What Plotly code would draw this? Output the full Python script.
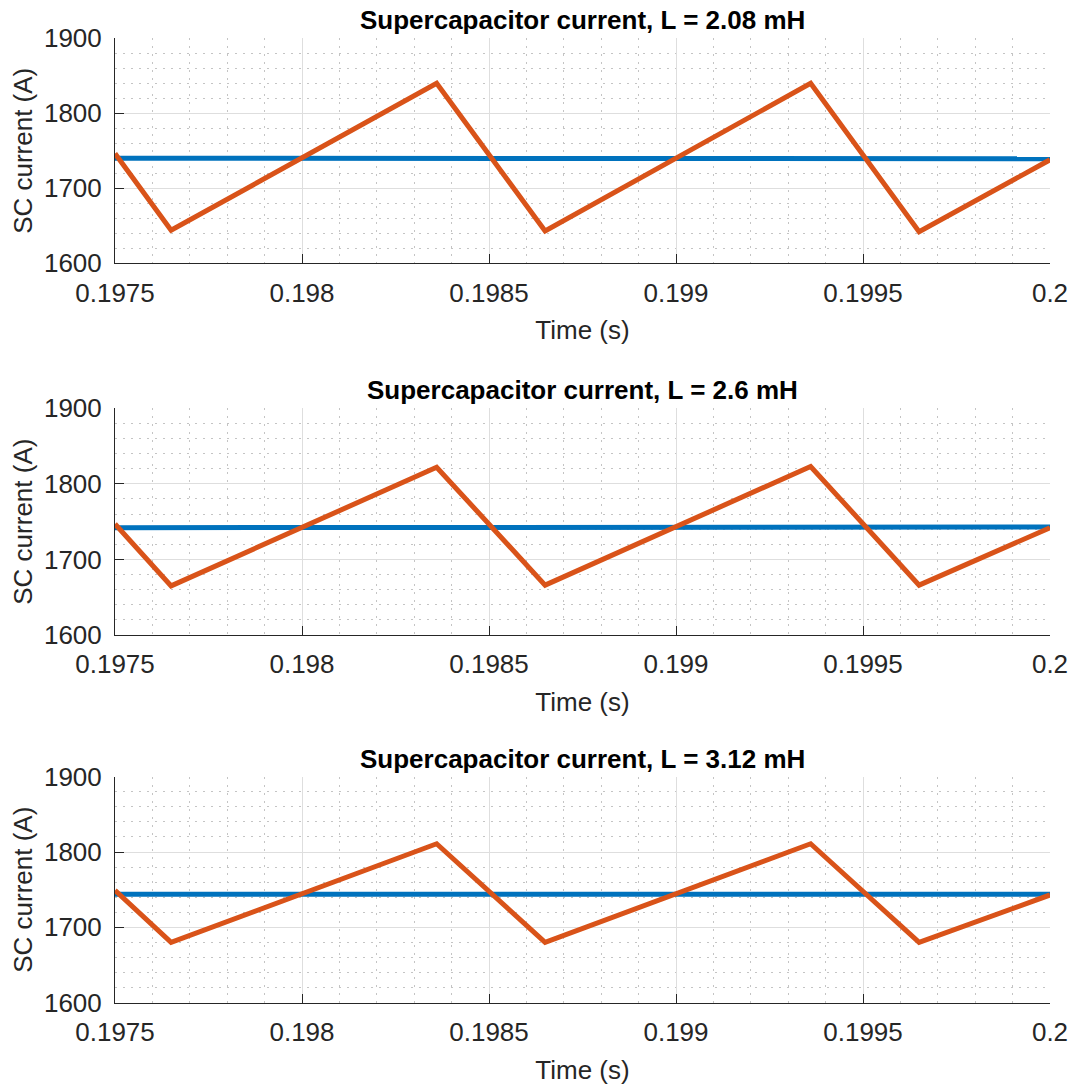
import plotly.graph_objects as go

# ---- data ----
t_vertices = [0.1975, 0.19765, 0.19836, 0.19865, 0.19936, 0.19965, 0.2]
sc_ref_t = [0.1975, 0.2]

titles = ["Supercapacitor current, L = 2.08 mH",
          "Supercapacitor current, L = 2.6 mH",
          "Supercapacitor current, L = 3.12 mH"]

sc_current_L1 = [1746.5, 1644, 1840, 1643, 1840, 1642, 1738]
sc_current_L2 = [1747, 1665, 1822, 1666, 1823, 1666, 1742]
sc_current_L3 = [1749, 1680, 1811, 1680, 1811, 1680, 1743]

sc_ref_L1 = [1740, 1739.5]
sc_ref_L2 = [1742, 1743]
sc_ref_L3 = [1743.8, 1744]

x_tickvals = [0.1975, 0.198, 0.1985, 0.199, 0.1995, 0.2]
x_ticktext = ["0.1975", "0.198", "0.1985", "0.199", "0.1995", "0.2"]
y_tickvals = [1600, 1700, 1800, 1900]
y_ticktext = ["1600", "1700", "1800", "1900"]

xlabel = "Time (s)"
ylabel = "SC current (A)"

# ---- style ----
BLUE = "#0072BD"
ORANGE = "#D95319"
TXT = "#262626"
FONT = "Liberation Sans, Arial, Helvetica, sans-serif"

OFF = 8  # default page body margin
W, H = 1076 - OFF, 1089 - OFF
ML, MR, MT, MB = 115 - OFF, 26, 38 - OFF, 86
plot_h = H - MT - MB
panel_px = [(38.3, 263.3), (408.3, 635.0), (776.7, 1002.7)]


def py(p):
    return (H - MB - (p - OFF)) / plot_h


fig = go.Figure()
orange_sets = [sc_current_L1, sc_current_L2, sc_current_L3]
blue_sets = [sc_ref_L1, sc_ref_L2, sc_ref_L3]

annotations = []
for i in range(3):
    sfx = "" if i == 0 else str(i + 1)
    fig.add_trace(go.Scatter(x=sc_ref_t, y=blue_sets[i], mode="lines",
                             line=dict(color=BLUE, width=5),
                             xaxis="x" + sfx, yaxis="y" + sfx, showlegend=False))
    fig.add_trace(go.Scatter(x=t_vertices, y=orange_sets[i], mode="lines",
                             line=dict(color=ORANGE, width=5),
                             xaxis="x" + sfx, yaxis="y" + sfx, showlegend=False))
    top, bot = panel_px[i]
    dom = [py(bot), py(top)]
    common = dict(showline=True, linecolor=TXT, linewidth=1, mirror=False,
                  ticks="inside", ticklen=9, tickcolor=TXT, tickwidth=1,
                  showgrid=True, gridcolor="#dedede", gridwidth=1,
                  zeroline=False, automargin=False,
                  tickfont=dict(family=FONT, size=26, color=TXT))
    fig.layout["xaxis" + sfx] = dict(
        common, domain=[0, 1], range=[0.1975, 0.2], anchor="y" + sfx,
        tickvals=x_tickvals, ticktext=x_ticktext, ticklabelstandoff=6,
        minor=dict(dtick=0.0001, tick0=0.1975, showgrid=True, griddash="2px,6px",
                   gridcolor="#c4c4c4", gridwidth=1, ticks=""),
        title=dict(text=xlabel, font=dict(family=FONT, size=26, color=TXT), standoff=14),
    )
    fig.layout["yaxis" + sfx] = dict(
        common, domain=dom, range=[1600, 1900], anchor="x" + sfx,
        tickvals=y_tickvals, ticktext=y_ticktext, ticklabelstandoff=7,
        minor=dict(dtick=20, tick0=1600, showgrid=True, griddash="2px,6px",
                   gridcolor="#c4c4c4", gridwidth=1, ticks=""),
        title=dict(text=ylabel, font=dict(family=FONT, size=26, color=TXT), standoff=6),
    )
    annotations.append(dict(text="<b>" + titles[i] + "</b>", xref="paper", yref="paper",
                            x=0.5, y=py(top), yanchor="bottom", xanchor="center",
                            yshift=1, showarrow=False,
                            font=dict(family=FONT, size=26, color="#000000")))

fig.update_layout(width=W, height=H, margin=dict(l=ML, r=MR, t=MT, b=MB),
                  paper_bgcolor="white", plot_bgcolor="white",
                  annotations=annotations, showlegend=False,
                  font=dict(family=FONT, color=TXT))

fig.write_html("out.html")
